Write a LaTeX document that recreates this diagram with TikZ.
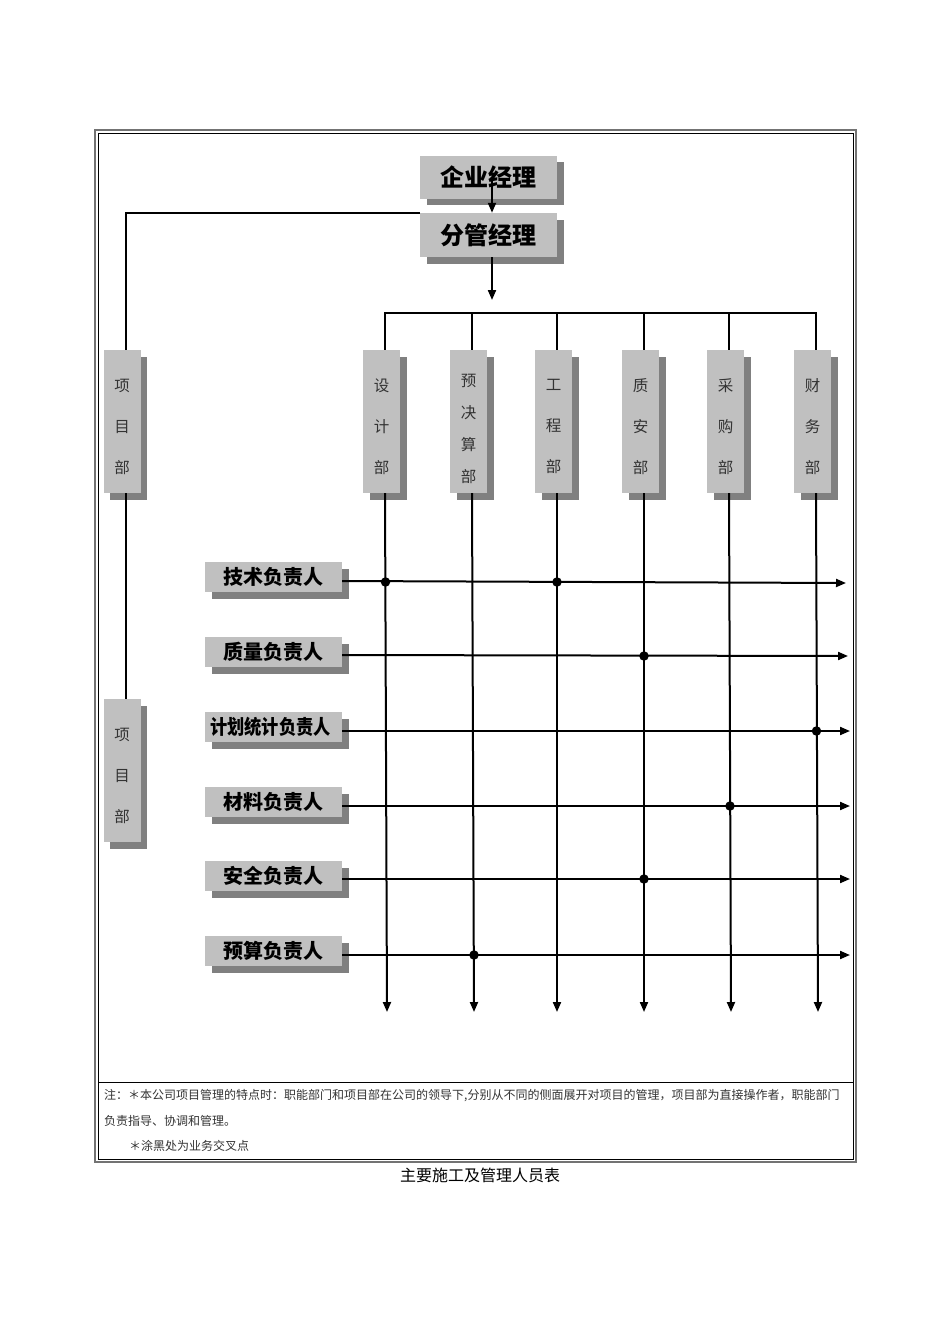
\documentclass[tikz,border=0pt]{standalone}
\usepackage{fontspec}
\usepackage{graphicx}
\newfontfamily\cjk{Noto Sans CJK SC}
\usetikzlibrary{shadows,arrows.meta}
\definecolor{face}{HTML}{C0C0C0}
\definecolor{shade}{HTML}{808080}
\begin{document}
\begin{tikzpicture}[x=1pt,y=-1pt,
 box/.style={fill=face, inner sep=0pt, drop shadow={shadow xshift=6.5pt,shadow yshift=-6.5pt,fill=shade,opacity=1}},
 topbox/.style={box, minimum width=137pt, minimum height=43pt, font=\cjk\bfseries\fontsize{24}{24}\selectfont},
 deptbox/.style={box, minimum width=37pt, minimum height=143pt},
 dtext/.style={align=center, inner sep=0pt, yshift=-5pt, text=black!80, font=\cjk\fontsize{15.5}{41}\selectfont},
 dtextf/.style={dtext, yshift=-2pt, font=\cjk\fontsize{15.5}{32}\selectfont},
 rolebox/.style={box, minimum width=137pt, minimum height=30pt, font=\cjk\bfseries\fontsize{20}{20}\selectfont},
 conn/.style={line width=2pt},
 arr/.style={conn, -{Triangle[length=10pt,width=8pt]}},
 dot/.style={circle, fill=black, inner sep=0pt, minimum size=9.5pt},
 note/.style={anchor=west, inner sep=0pt, text=black!80, font=\cjk\fontsize{12}{12}\selectfont}
]
\useasboundingbox (0,0) rectangle (950,1344);
\fill[white] (0,0) rectangle (950,1344);
% frame
\draw[line width=1.2pt, black!55] (95,130) rectangle (856,1162);
\draw[line width=1pt] (98,133) rectangle (853,1159);
\draw[line width=1pt] (98,1082) -- (853,1082);

% managers
\node[topbox] (m1) at (488.5,177) {企业经理};
\node[topbox, minimum height=44pt] (m2) at (488.5,235) {分管经理};

% departments
\node[deptbox, label={[dtext]center:{设\\计\\部}}] (d1) at (381.5,421.5) {};
\node[deptbox, label={[dtextf]center:{预\\决\\算\\部}}] (d2) at (468.5,421.5) {};
\node[deptbox, label={[dtext]center:{工\\程\\部}}] (d3) at (553.5,421.5) {};
\node[deptbox, label={[dtext]center:{质\\安\\部}}] (d4) at (640.5,421.5) {};
\node[deptbox, label={[dtext]center:{采\\购\\部}}] (d5) at (725.5,421.5) {};
\node[deptbox, label={[dtext]center:{财\\务\\部}}] (d6) at (812.5,421.5) {};

% project departments
\node[deptbox, label={[dtext]center:{项\\目\\部}}] (p1) at (122,421.5) {};
\node[deptbox, label={[dtext]center:{项\\目\\部}}] (p2) at (122,770.5) {};

% roles
\node[rolebox] (r1) at (273.5,577) {技术负责人};
\node[rolebox] (r2) at (273.5,652) {质量负责人};
\node[rolebox] (r3) at (273.5,727) {\hspace*{-6pt}\scalebox{0.86}[1]{计划统计负责人}};
\node[rolebox] (r4) at (273.5,802) {材料负责人};
\node[rolebox] (r5) at (273.5,876) {安全负责人};
\node[rolebox] (r6) at (273.5,951) {预算负责人};

% coordinates
\coordinate (m2end) at (492,300);
\coordinate (bus1) at (385,313);
\coordinate (bus6) at (816,313);
\coordinate (e1) at (387,1012);
\coordinate (e2) at (474,1012);
\coordinate (e3) at (557,1012);
\coordinate (e4) at (644,1012);
\coordinate (e5) at (731,1012);
\coordinate (e6) at (818,1012);
\coordinate (h1) at (846,583);
\coordinate (h2) at (848,656);
\coordinate (h3) at (850,731);
\coordinate (h4) at (850,806);
\coordinate (h5) at (850,879);
\coordinate (h6) at (850,955);

% connectors
\draw[arr] ([xshift=3.5pt]m1.center) -- ([xshift=3.5pt]m2.north);
\draw[arr] ([xshift=3.5pt]m2.south) -- (m2end);
\draw[conn] (m2.north west) -| ([xshift=3.5pt]p1.north);
\draw[conn] ([xshift=3.5pt]p1.south) -- ([xshift=3.5pt]p2.north);
\draw[conn] ([xshift=3.5pt]d1.north) |- (bus6) -- ([xshift=3.5pt]d6.north);
\foreach \d in {d2,d3,d4,d5}{
  \draw[conn] ([xshift=3.5pt]\d.north) -- ([xshift=3.5pt]\d.north |- bus1);
}
\draw[arr] ([xshift=3.5pt]d1.south) -- (e1);
\draw[arr] ([xshift=3.5pt]d2.south) -- (e2);
\draw[arr] ([xshift=3.5pt]d3.south) -- (e3);
\draw[arr] ([xshift=3.5pt]d4.south) -- (e4);
\draw[arr] ([xshift=3.5pt]d5.south) -- (e5);
\draw[arr] ([xshift=3.5pt]d6.south) -- (e6);
\draw[arr] ([yshift=-4pt]r1.east) -- (h1);
\draw[arr] ([yshift=-3pt]r2.east) -- (h2);
\draw[arr] ([yshift=-4pt]r3.east) -- (h3);
\draw[arr] ([yshift=-4pt]r4.east) -- (h4);
\draw[arr] ([yshift=-3pt]r5.east) -- (h5);
\draw[arr] ([yshift=-4pt]r6.east) -- (h6);

% intersection dots
\node[dot] (x1) at (385.5,582) {};
\node[dot] (x2) at (557,582) {};
\node[dot] (x3) at (644,656) {};
\node[dot] (x4) at (816.5,731) {};
\node[dot] (x5) at (730,806) {};
\node[dot] (x6) at (644,879) {};
\node[dot] (x7) at (474,955) {};

% notes
\node[note] (n1) at (104,1096) {注：＊本公司项目管理的特点时：职能部门和项目部在公司的领导下,分别从不同的侧面展开对项目的管理，项目部为直接操作者，职能部门};
\node[note] (n2) at (104,1121) {负责指导、协调和管理。};
\node[note] (n3) at (129,1146) {＊涂黑处为业务交叉点};
\node[inner sep=0pt, font=\cjk\fontsize{16}{16}\selectfont] (cap) at (480,1175) {主要施工及管理人员表};
\end{tikzpicture}
\end{document}
